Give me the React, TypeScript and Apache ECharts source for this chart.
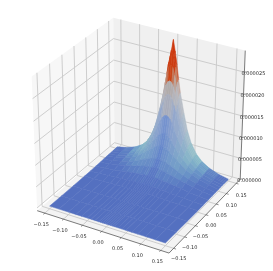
import React, { useEffect, useRef } from "react";
import * as echarts from "echarts";

// tick labels
const xyTicks = [-0.15, -0.1, -0.05, 0, 0.05, 0.1, 0.15];
const xyTickLabels = ["\u22120.15", "\u22120.10", "\u22120.05", "0.00", "0.05", "0.10", "0.15"];
const zTicks = [0, 5, 10, 15, 20, 25]; // in 1e-6
const zTickLabels = ["0.000000", "0.000005", "0.000010", "0.000015", "0.000020", "0.000025"];

// surface samples: |x| from the ridge, distance behind the y = 0.15 edge, height in 1e-6
const absX = [0, 0.005, 0.01, 0.015, 0.02, 0.03, 0.04, 0.05, 0.065, 0.08, 0.1, 0.125, 0.15];
const backDist = [0, 0.005, 0.01, 0.015, 0.02, 0.03, 0.04, 0.05, 0.065, 0.08, 0.1, 0.125, 0.15, 0.2, 0.25, 0.3];
const heights = [
  [29.3, 26.8, 24.0, 20.5, 17.6, 13.1, 9.2, 6.6, 4.2, 2.8, 1.7, 0.9, 0.4],
  [26.8, 25.6, 23.5, 20.2, 17.4, 12.9, 9.1, 6.6, 4.2, 2.8, 1.7, 0.9, 0.4],
  [24.0, 23.5, 21.8, 19.3, 16.6, 12.4, 8.8, 6.4, 4.1, 2.8, 1.7, 0.9, 0.4],
  [20.5, 20.2, 19.3, 17.3, 15.3, 11.5, 8.4, 6.2, 4.0, 2.7, 1.6, 0.9, 0.39],
  [17.6, 17.4, 16.6, 15.3, 13.8, 10.5, 7.8, 5.9, 3.9, 2.6, 1.6, 0.9, 0.38],
  [13.1, 12.9, 12.4, 11.5, 10.5, 8.4, 6.6, 5.2, 3.5, 2.5, 1.5, 0.85, 0.37],
  [9.2, 9.1, 8.8, 8.4, 7.8, 6.6, 5.4, 4.4, 3.2, 2.2, 1.4, 0.8, 0.34],
  [6.6, 6.6, 6.4, 6.2, 5.9, 5.2, 4.4, 3.7, 2.7, 2.0, 1.3, 0.75, 0.31],
  [4.2, 4.2, 4.1, 4.0, 3.9, 3.5, 3.2, 2.7, 2.1, 1.6, 1.1, 0.6, 0.27],
  [2.8, 2.8, 2.8, 2.7, 2.6, 2.5, 2.2, 2.0, 1.6, 1.3, 0.9, 0.5, 0.22],
  [1.7, 1.7, 1.7, 1.6, 1.6, 1.5, 1.4, 1.3, 1.1, 0.9, 0.6, 0.38, 0.18],
  [0.9, 0.9, 0.9, 0.9, 0.9, 0.85, 0.8, 0.75, 0.6, 0.5, 0.38, 0.25, 0.12],
  [0.4, 0.4, 0.4, 0.39, 0.38, 0.37, 0.34, 0.31, 0.27, 0.22, 0.18, 0.12, 0.08],
  [0.12, 0.12, 0.12, 0.12, 0.12, 0.11, 0.11, 0.1, 0.1, 0.09, 0.08, 0.07, 0.06],
  [0.07, 0.07, 0.07, 0.07, 0.07, 0.06, 0.06, 0.06, 0.06, 0.05, 0.05, 0.04, 0.04],
  [0.04, 0.04, 0.04, 0.04, 0.04, 0.04, 0.04, 0.04, 0.03, 0.03, 0.03, 0.02, 0.02],
];

const LIM = 0.1705;
const Z_TOP = 29.8;
const PEAK = 29.3;
const W = 273;
const H = 271;
const SX = 152.4;
const SY = 150;
const CX = 140.2;
const CY = 130;
const DROP = 0.65; // the x axis and front corner sit a little under the floor pane
const FONT = "DejaVu Sans";

// mplot3d view (elev 30, azim -60, dist 10) in world units
function project(x: number, y: number, z: number): number[] {
  const a = (x / LIM) * 0.5;
  const b = (y / LIM) * 0.5;
  const c = z / Z_TOP - 0.5;
  const u = 0.866 * a + 0.5 * b;
  const v = -0.25 * a + 0.433 * b + 0.866 * c;
  const n = 0.433 * a - 0.75 * b + 0.5 * c;
  const s = 10 / (10 - n);
  return [u * s, v * s];
}

type RGB = number[];
const mainStops: [number, RGB][] = [
  [0, [84, 112, 192]],
  [0.02, [84, 112, 192]],
  [0.15, [98, 132, 202]],
  [0.44, [115, 145, 208]],
  [0.5, [165, 170, 188]],
  [0.7, [178, 172, 165]],
  [0.74, [202, 66, 18]],
  [1, [205, 52, 12]],
];
const flankStops: [number, RGB][] = [
  [0, [84, 112, 192]],
  [0.03, [88, 118, 194]],
  [0.07, [112, 160, 200]],
  [0.13, [142, 192, 200]],
  [0.3, [172, 190, 205]],
  [0.6, [190, 190, 195]],
  [0.72, [200, 135, 105]],
  [0.78, [205, 62, 20]],
  [1, [205, 52, 12]],
];
function ramp(stops: [number, RGB][], t: number): RGB {
  for (let i = 1; i < stops.length; i++) {
    if (t <= stops[i][0]) {
      const [t0, c0] = stops[i - 1];
      const [t1, c1] = stops[i];
      const f = (t - t0) / (t1 - t0);
      return c0.map((v, k) => v + (c1[k] - v) * f);
    }
  }
  return stops[stops.length - 1][1];
}

type Prim =
  | { kind: "poly"; pts: number[][]; fill: string; stroke?: string; lw?: number }
  | { kind: "line"; pts: number[][]; stroke: string; lw: number }
  | { kind: "text"; at: number[]; dx: number; dy: number; text: string };

const hex = (c: RGB) => `rgb(${c.map((v) => Math.round(v)).join(",")})`;

const panes: Prim[] = [
  { kind: "poly", fill: "#f7f7f7", pts: [project(-LIM, -LIM, 0), project(-LIM, LIM, 0), project(-LIM, LIM, Z_TOP), project(-LIM, -LIM, Z_TOP)] },
  { kind: "poly", fill: "#f0f0f0", pts: [project(-LIM, LIM, 0), project(LIM, LIM, 0), project(LIM, LIM, Z_TOP), project(-LIM, LIM, Z_TOP)] },
  { kind: "poly", fill: "#f3f3f3", pts: [project(-LIM, -LIM, -DROP), project(LIM, -LIM, -DROP), project(LIM, LIM, 0), project(-LIM, LIM, 0)] },
];

const GRID = "#c8c8c8";
const grid: Prim[] = [];
const dropAtY = (y: number) => -DROP * (LIM - y) / (2 * LIM);
xyTicks.forEach((t) => {
  grid.push({ kind: "line", stroke: GRID, lw: 0.9, pts: [project(t, -LIM, -DROP), project(t, LIM, 0), project(t, LIM, Z_TOP)] });
  grid.push({ kind: "line", stroke: GRID, lw: 0.9, pts: [project(LIM, t, dropAtY(t)), project(-LIM, t, dropAtY(t)), project(-LIM, t, Z_TOP)] });
});
zTicks.forEach((t) => {
  grid.push({ kind: "line", stroke: GRID, lw: 0.9, pts: [project(-LIM, -LIM, t), project(-LIM, LIM, t), project(LIM, LIM, t)] });
});

// surface cells, far to near
const xCols = [...absX.slice(1).reverse().map((v) => -v), ...absX];
const valueAt = (col: number, row: number) => heights[row][Math.abs(col - (absX.length - 1))];
const surface: Prim[] = [];
for (let r = 0; r < backDist.length - 1; r++) {
  const y0 = 0.15 - backDist[r];
  const y1 = 0.15 - backDist[r + 1];
  for (let c = 0; c < xCols.length - 1; c++) {
    const x0 = xCols[c];
    const x1 = xCols[c + 1];
    const z00 = valueAt(c, r);
    const z10 = valueAt(c + 1, r);
    const z01 = valueAt(c, r + 1);
    const z11 = valueAt(c + 1, r + 1);
    const mean = (z00 + z10 + z01 + z11) / 4;
    const gx = Math.abs((z10 + z11 - z00 - z01) / (2 * (x1 - x0)));
    const gy = Math.abs((z00 + z10 - z01 - z11) / (2 * (y0 - y1)));
    const side = gx / (gx + gy + 1);
    const t = mean / PEAK;
    const a = ramp(mainStops, t);
    const b = ramp(flankStops, t);
    const w = Math.min(1, side * 1.2);
    const col = hex(a.map((v, k) => v + (b[k] - v) * w));
    surface.push({
      kind: "poly",
      fill: col,
      stroke: col,
      lw: 0.5,
      pts: [project(x0, y0, z00), project(x1, y0, z10), project(x1, y1, z11), project(x0, y1, z01)],
    });
  }
}

const AXIS = "#444444";
const axes: Prim[] = [
  { kind: "line", stroke: AXIS, lw: 0.7, pts: [project(-LIM, -LIM, -DROP), project(LIM, -LIM, -DROP), project(LIM, LIM, 0), project(LIM, LIM, Z_TOP)] },
];
xyTicks.forEach((t) => {
  axes.push({ kind: "line", stroke: AXIS, lw: 0.6, pts: [project(t, -LIM, -DROP), project(t, -LIM - 0.006, -DROP)] });
  axes.push({ kind: "line", stroke: AXIS, lw: 0.6, pts: [project(LIM, t, dropAtY(t)), project(LIM + 0.006, t, dropAtY(t))] });
});
zTicks.forEach((t) => {
  axes.push({ kind: "line", stroke: AXIS, lw: 0.6, pts: [project(LIM, LIM, t), project(LIM + 0.004, LIM + 0.004, t)] });
});

const labels: Prim[] = [];
xyTicks.forEach((t, i) => {
  labels.push({ kind: "text", at: project(t, -LIM, 0), dx: -3.5, dy: 13.5, text: xyTickLabels[i] });
  labels.push({ kind: "text", at: project(LIM, t, 0), dx: 5, dy: 12, text: xyTickLabels[i] });
});
zTicks.forEach((t, i) => {
  labels.push({ kind: "text", at: project(LIM, LIM, t), dx: 9, dy: 0.5, text: zTickLabels[i] });
});

function layer(prims: Prim[]) {
  return {
    type: "custom",
    coordinateSystem: "cartesian2d",
    silent: true,
    data: prims.map((_, i) => [i]),
    renderItem: (params: any, api: any) => {
      const p = prims[params.dataIndex];
      if (p.kind === "text") {
        const q = api.coord(p.at);
        return {
          type: "text",
          x: q[0] + p.dx,
          y: q[1] + p.dy,
          style: { text: p.text, fill: "#2a2a2a", fontSize: 5, fontFamily: FONT, align: "center", verticalAlign: "middle" },
        };
      }
      const pts = p.pts.map((v) => api.coord(v));
      if (p.kind === "poly") {
        return { type: "polygon", shape: { points: pts }, style: { fill: p.fill, stroke: p.stroke ?? "none", lineWidth: p.lw ?? 0 } };
      }
      return { type: "polyline", shape: { points: pts }, style: { fill: "none", stroke: p.stroke, lineWidth: p.lw } };
    },
  };
}

export default function App() {
  const ref = useRef<HTMLDivElement>(null);
  useEffect(() => {
    document.body.style.margin = "0";
    const chart = echarts.init(ref.current!, undefined, { renderer: "svg" });
    chart.setOption({
      animation: false,
      backgroundColor: "#ffffff",
      grid: { left: 0, right: 0, top: 0, bottom: 0 },
      xAxis: { type: "value", show: false, min: -CX / SX, max: (W - CX) / SX },
      yAxis: { type: "value", show: false, min: (CY - H) / SY, max: CY / SY },
      series: [layer(panes), layer(grid), layer(axes), layer(surface), layer(labels)],
    });
    return () => chart.dispose();
  }, []);
  return <div ref={ref} style={{ width: W, height: H, filter: "blur(0.35px)" }} />;
}
